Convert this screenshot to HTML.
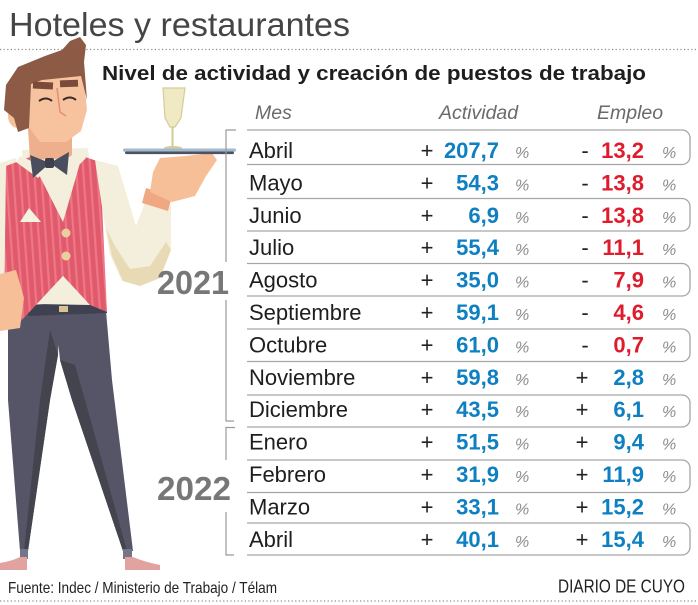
<!DOCTYPE html>
<html><head><meta charset="utf-8"><style>
html,body{margin:0;padding:0;background:#fff;}
svg{display:block;font-family:"Liberation Sans",Arial,sans-serif;}
</style></head><body>
<svg width="698" height="605" viewBox="0 0 698 605" xmlns="http://www.w3.org/2000/svg">
<defs>
<pattern id="str" width="7" height="20" patternUnits="userSpaceOnUse" patternTransform="rotate(-4)">
<rect width="7" height="20" fill="#e05a6b"/><rect x="0" width="2.2" height="20" fill="#ee7787"/>
</pattern>
</defs>
<rect width="698" height="605" fill="#fff"/>
<!-- title -->
<text x="9" y="36" font-size="33" fill="#454545" textLength="341" lengthAdjust="spacingAndGlyphs">Hoteles y restaurantes</text>
<line x1="0" y1="49.5" x2="698" y2="49.5" stroke="#8a8a8a" stroke-width="1.2" stroke-dasharray="1.2 2.4"/>
<line x1="0" y1="601" x2="698" y2="601" stroke="#8a8a8a" stroke-width="1.2" stroke-dasharray="1.2 2.4"/>

<!-- waiter -->
<g>
<!-- legs -->
<polygon points="28,311 60,311 58,355 50,400 28,551 20,551 8,400 8,330" fill="#555567"/>
<polygon points="50,330 58,355 50,400 28,551 24,551 40,400" fill="#44444f"/>
<polygon points="55,311 106,311 112,380 133,551 123,551 72,400 60,360" fill="#555567"/>
<polygon points="60,360 72,400 123,551 127,551 85,400 75,365" fill="#44444f"/>
<rect x="20" y="549" width="8" height="10" fill="#75758a"/>
<rect x="123" y="549" width="9" height="10" fill="#75758a"/>
<path d="M0,570 L0,563 Q12,561 20,557 L27,557 L27,570 Z" fill="#e2a3a0"/>
<path d="M125,557 L133,557 Q145,562 160,565 L160,570 L125,570 Z" fill="#e2a3a0"/>
<!-- belt -->
<polygon points="28,302 106,298 107,313 28,316" fill="#3f4050"/>
<rect x="59" y="306" width="9" height="6" fill="#d9c38e"/>
<!-- left sleeve & shirt -->
<polygon points="0,163 16,158 18,272 0,276" fill="#f3efdc"/>
<polygon points="22,150 88,148 102,300 30,305" fill="#f3efdc"/>
<!-- vest -->
<polygon points="6,166 30,157 63,222 82,156 100,162 107,312 90,305 63,276 37,304 20,322 4,318" fill="url(#str)"/>
<polygon points="37,304 63,276 90,305" fill="#f3efdc"/>
<polygon points="20,222 41,222 29,208" fill="#f6f2e2"/>
<circle cx="66" cy="233" r="4.5" fill="#e9cfa0"/>
<circle cx="66" cy="256" r="4.5" fill="#e9cfa0"/>
<!-- left hand -->
<polygon points="0,274 16,270 24,298 20,328 0,331" fill="#f6bf98"/>
<!-- right sleeve -->
<polygon points="95,160 118,166 136,226 146,200 171,206 171,250 160,278 140,286 122,281 110,255 104,220" fill="#f3efdc"/>
<polygon points="106,228 112,256 123,281 140,286 160,278 171,250 166,242 150,266 130,269 115,246" fill="#e8dab4"/>
<!-- right hand -->
<polygon points="146,188 172,196 168,211 142,203" fill="#f0a883"/>
<path d="M150,192 L153,172 L160,158 L185,156 L212,153 L217,160 L206,176 L195,196 L172,202 Z" fill="#f6bf98"/>
<!-- neck collar bowtie -->
<polygon points="28,128 72,128 72,158 30,160" fill="#eeb08c"/>
<polygon points="20,156 48,168 38,178 16,162" fill="#f3efdc"/>
<polygon points="80,150 52,168 66,178 86,158" fill="#f3efdc"/>
<polygon points="30,155 50,163 33,178" fill="#4a4d5e"/>
<polygon points="69,152 50,163 67,175" fill="#4a4d5e"/>
<rect x="45" y="158" width="9" height="10" rx="2" fill="#3c3f4e"/>
<!-- head -->
<ellipse cx="18" cy="116" rx="10" ry="12" fill="#f6bf98"/>
<polygon points="30,78 83,70 87,110 81,131 66,142 40,142 28,126" fill="#f7c39e"/>
<path d="M4,110 L6,85 L18,67 L45,56 L62,50 L70,41 L80,37 L86,45 L84,62 L87,100 L81,76 L42,80 L31,84 L29,128 L18,132 L14,118 Z" fill="#8c5a45"/>
<rect x="33" y="82" width="20" height="7" fill="#7a4a3a" transform="rotate(3 43 85)"/>
<rect x="60" y="80" width="18" height="7" fill="#7a4a3a" transform="rotate(-2 69 83)"/>
<path d="M39,101 Q46,96 52,101" stroke="#3a2a28" stroke-width="2" fill="none"/>
<path d="M63,100 Q70,95 76,100" stroke="#3a2a28" stroke-width="2" fill="none"/>
<path d="M57,88 L60,112 L66,116" stroke="#e68c7a" stroke-width="1.5" fill="none"/>
<!-- glass & tray -->
<path d="M163,88 L185,88 L181,118 L175,127 L170,127 L165,118 Z" fill="#efe9c4" stroke="#d6cc98" stroke-width="1.2"/>
<line x1="172.5" y1="127" x2="172.5" y2="147" stroke="#d3c993" stroke-width="2"/>
<ellipse cx="173" cy="148" rx="9" ry="2" fill="#d6cc98"/>
<rect x="123" y="148.5" width="113" height="3.2" rx="1.5" fill="#a3bacc"/>
<rect x="125" y="151.5" width="109" height="2.6" rx="1.2" fill="#4b5263"/>
</g>

<!-- subtitle -->
<text x="102" y="80" font-size="20" font-weight="bold" fill="#1e1e1e" textLength="544" lengthAdjust="spacingAndGlyphs">Nivel de actividad y creación de puestos de trabajo</text>
<!-- headers -->
<g font-size="19.5" font-style="italic" fill="#6a6a6a">
<text x="255" y="119">Mes</text>
<text x="439" y="119">Actividad</text>
<text x="597" y="119">Empleo</text>
</g>

<!-- brackets -->
<path d="M236,130 H226 V262 M226,300 V421 H234" stroke="#9a9a9a" stroke-width="1.2" fill="none"/>
<path d="M235,427.5 H226 V460 M226,512 V555 H234" stroke="#9a9a9a" stroke-width="1.2" fill="none"/>
<text x="157" y="294" font-size="33" font-weight="bold" fill="#777" textLength="72" lengthAdjust="spacingAndGlyphs">2021</text>
<text x="157" y="500" font-size="33" font-weight="bold" fill="#777" textLength="74" lengthAdjust="spacingAndGlyphs">2022</text>

<!-- boxes -->
<g stroke="#a6a6a6" stroke-width="1.3" fill="none">
<path d="M247,130 H682 A8,8 0 0 1 690,138 V156.5 A8,8 0 0 1 682,164.5 H247"/>
<path d="M247,198.5 H682 A8,8 0 0 1 690,206.5 V223 A8,8 0 0 1 682,231 H247"/>
<path d="M247,263.5 H682 A8,8 0 0 1 690,271.5 V288 A8,8 0 0 1 682,296 H247"/>
<path d="M247,329 H682 A8,8 0 0 1 690,337 V353.5 A8,8 0 0 1 682,361.5 H247"/>
<path d="M247,395 H682 A8,8 0 0 1 690,403 V419 A8,8 0 0 1 682,427 H247"/>
<path d="M247,460 H682 A8,8 0 0 1 690,468 V484.5 A8,8 0 0 1 682,492.5 H247"/>
<path d="M247,523 H682 A8,8 0 0 1 690,531 V547 A8,8 0 0 1 682,555 H247"/>
</g>

<!-- rows -->
<g font-size="22">
<g fill="#1e1e1e">
<text x="249" y="158">Abril</text>
<text x="249" y="190.4">Mayo</text>
<text x="249" y="222.8">Junio</text>
<text x="249" y="255.2">Julio</text>
<text x="249" y="287.6">Agosto</text>
<text x="249" y="320">Septiembre</text>
<text x="249" y="352.4">Octubre</text>
<text x="249" y="384.8">Noviembre</text>
<text x="249" y="417.2">Diciembre</text>
<text x="249" y="449.6">Enero</text>
<text x="249" y="482">Febrero</text>
<text x="249" y="514.4">Marzo</text>
<text x="249" y="546.8">Abril</text>
</g>
<g fill="#222" text-anchor="middle">
<text x="427" y="158">+</text>
<text x="427" y="190.4">+</text>
<text x="427" y="222.8">+</text>
<text x="427" y="255.2">+</text>
<text x="427" y="287.6">+</text>
<text x="427" y="320">+</text>
<text x="427" y="352.4">+</text>
<text x="427" y="384.8">+</text>
<text x="427" y="417.2">+</text>
<text x="427" y="449.6">+</text>
<text x="427" y="482">+</text>
<text x="427" y="514.4">+</text>
<text x="427" y="546.8">+</text>
<text x="585" y="158">-</text>
<text x="585" y="190.4">-</text>
<text x="585" y="222.8">-</text>
<text x="585" y="255.2">-</text>
<text x="585" y="287.6">-</text>
<text x="585" y="320">-</text>
<text x="585" y="352.4">-</text>
<text x="582" y="384.8">+</text>
<text x="582" y="417.2">+</text>
<text x="582" y="449.6">+</text>
<text x="582" y="482">+</text>
<text x="582" y="514.4">+</text>
<text x="582" y="546.8">+</text>
</g>
<g fill="#0e80c2" font-weight="bold" text-anchor="end">
<text x="499" y="158">207,7</text>
<text x="499" y="190.4">54,3</text>
<text x="499" y="222.8">6,9</text>
<text x="499" y="255.2">55,4</text>
<text x="499" y="287.6">35,0</text>
<text x="499" y="320">59,1</text>
<text x="499" y="352.4">61,0</text>
<text x="499" y="384.8">59,8</text>
<text x="499" y="417.2">43,5</text>
<text x="499" y="449.6">51,5</text>
<text x="499" y="482">31,9</text>
<text x="499" y="514.4">33,1</text>
<text x="499" y="546.8">40,1</text>
<text x="644" y="384.8">2,8</text>
<text x="644" y="417.2">6,1</text>
<text x="644" y="449.6">9,4</text>
<text x="644" y="482">11,9</text>
<text x="644" y="514.4">15,2</text>
<text x="644" y="546.8">15,4</text>
</g>
<g fill="#de1c2e" font-weight="bold" text-anchor="end">
<text x="644" y="158">13,2</text>
<text x="644" y="190.4">13,8</text>
<text x="644" y="222.8">13,8</text>
<text x="644" y="255.2">11,1</text>
<text x="644" y="287.6">7,9</text>
<text x="644" y="320">4,6</text>
<text x="644" y="352.4">0,7</text>
</g>
</g>
<g font-size="16" font-style="italic" fill="#8c8c8c">
<text x="515" y="158">%</text><text x="662" y="158">%</text>
<text x="515" y="190.4">%</text><text x="662" y="190.4">%</text>
<text x="515" y="222.8">%</text><text x="662" y="222.8">%</text>
<text x="515" y="255.2">%</text><text x="662" y="255.2">%</text>
<text x="515" y="287.6">%</text><text x="662" y="287.6">%</text>
<text x="515" y="320">%</text><text x="662" y="320">%</text>
<text x="515" y="352.4">%</text><text x="662" y="352.4">%</text>
<text x="515" y="384.8">%</text><text x="662" y="384.8">%</text>
<text x="515" y="417.2">%</text><text x="662" y="417.2">%</text>
<text x="515" y="449.6">%</text><text x="662" y="449.6">%</text>
<text x="515" y="482">%</text><text x="662" y="482">%</text>
<text x="515" y="514.4">%</text><text x="662" y="514.4">%</text>
<text x="515" y="546.8">%</text><text x="662" y="546.8">%</text>
</g>

<!-- footer -->
<text x="8" y="593" font-size="16" fill="#222" textLength="269" lengthAdjust="spacingAndGlyphs">Fuente: Indec / Ministerio de Trabajo / Télam</text>
<text x="558" y="592.5" font-size="18.5" fill="#222" textLength="127" lengthAdjust="spacingAndGlyphs">DIARIO DE CUYO</text>
</svg>
</body></html>
